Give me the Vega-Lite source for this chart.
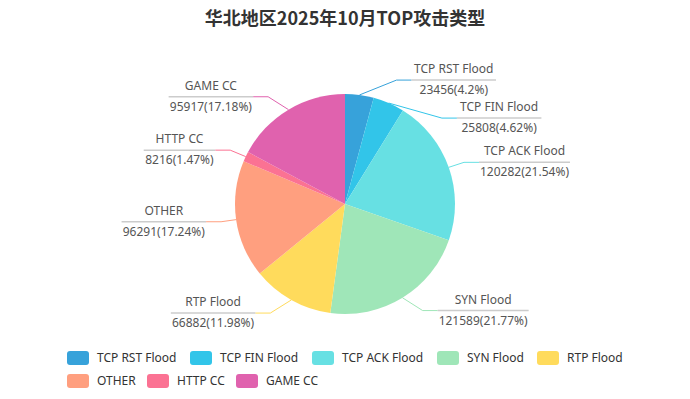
{
  "$schema": "https://vega.github.io/schema/vega-lite/v6.json",
  "width": 690,
  "height": 272,
  "autosize": {"type": "none"},
  "padding": {"top": 68, "bottom": 59, "left": 0, "right": 0},
  "background": "white",
  "title": {"text": "华北地区2025年10月TOP攻击类型"},
  "data": {
    "values": [
      {"type": "TCP RST Flood", "count": 23456},
      {"type": "TCP FIN Flood", "count": 25808},
      {"type": "TCP ACK Flood", "count": 120282},
      {"type": "SYN Flood", "count": 121589},
      {"type": "RTP Flood", "count": 66882},
      {"type": "OTHER", "count": 96291},
      {"type": "HTTP CC", "count": 8216},
      {"type": "GAME CC", "count": 95917}
    ]
  },
  "transform": [
    {"window": [{"op": "row_number", "as": "idx"}]},
    {"joinaggregate": [{"op": "sum", "field": "count", "as": "total"}]},
    {"window": [{"op": "sum", "field": "count", "as": "cum"}], "sort": [{"field": "idx"}], "frame": [null, 0]},
    {"calculate": "(datum.cum - datum.count / 2) / datum.total * 2 * PI", "as": "mid"},
    {"calculate": "round(datum.count / datum.total * 10000) / 100", "as": "pct"},
    {"calculate": "datum.count + '(' + datum.pct + '%)'", "as": "valtxt"},
    {"calculate": "sin(datum.mid) >= 0 ? 1 : -1", "as": "side"},
    {"calculate": "110 * sin(datum.mid)", "as": "ex"},
    {"calculate": "110 * cos(datum.mid)", "as": "ey"},
    {"calculate": "125 * cos(datum.mid)", "as": "ny"},
    {"window": [{"op": "lag", "field": "ny", "as": "prevny"}], "groupby": ["side"], "sort": [{"field": "idx"}]},
    {"calculate": "datum.prevny == null ? datum.ny : (datum.side > 0 ? min(datum.ny, datum.prevny - 38) : max(datum.ny, datum.prevny + 38))", "as": "ly"},
    {"calculate": "datum.side * 125 * sqrt(max(0, 1 - datum.ly * datum.ly / 18496))", "as": "bx"},
    {"calculate": "datum.bx + datum.side * 15", "as": "ax"},
    {"calculate": "max(length(datum.type), length(datum.valtxt)) * 6.5", "as": "w"},
    {"calculate": "datum.ax + datum.side * datum.w / 2", "as": "tx"},
    {"calculate": "datum.ax + datum.side * datum.w", "as": "hx"}
  ],
  "layer": [
    {
      "mark": {"type": "arc", "radius": 110},
      "encoding": {
        "theta": {"field": "count", "type": "quantitative", "stack": true},
        "order": {"field": "idx", "type": "quantitative"},
        "fill": {
          "field": "type",
          "type": "nominal",
          "scale": {
            "domain": ["TCP RST Flood", "TCP FIN Flood", "TCP ACK Flood", "SYN Flood", "RTP Flood", "OTHER", "HTTP CC", "GAME CC"],
            "range": ["#37a2da", "#32c5e9", "#67e0e3", "#9fe6b8", "#ffdb5c", "#ff9f7f", "#fb7293", "#e062ae"]
          },
          "legend": {"title": null, "orient": "none", "legendX": 67, "legendY": 279, "direction": "horizontal", "columnPadding": 13,
            "values": ["TCP RST Flood", "TCP FIN Flood", "TCP ACK Flood", "SYN Flood", "RTP Flood"]}
        }
      }
    },
    {
      "mark": {"type": "rule", "strokeWidth": 1},
      "encoding": {
        "x": {"field": "ex", "type": "quantitative", "scale": {"domain": [-345, 345], "nice": false, "zero": false}, "axis": null},
        "y": {"field": "ey", "type": "quantitative", "scale": {"domain": [-136, 136], "nice": false, "zero": false}, "axis": null},
        "x2": {"field": "bx"},
        "y2": {"field": "ly"},
        "stroke": {
          "field": "type",
          "type": "nominal",
          "scale": {
            "domain": ["OTHER", "HTTP CC", "GAME CC", "TCP RST Flood", "TCP FIN Flood", "TCP ACK Flood", "SYN Flood", "RTP Flood"],
            "range": ["#ff9f7f", "#fb7293", "#e062ae", "#37a2da", "#32c5e9", "#67e0e3", "#9fe6b8", "#ffdb5c"]
          },
          "legend": {"title": null, "orient": "none", "legendX": 67, "legendY": 302, "direction": "horizontal", "columnPadding": 11,
            "values": ["OTHER", "HTTP CC", "GAME CC"],
            "encode": {"symbols": {"update": {"fill": {"scale": "stroke", "field": "value"}, "strokeWidth": {"value": 0}}}}}
        }
      }
    },
    {
      "mark": {"type": "rule", "strokeWidth": 1},
      "encoding": {
        "x": {"field": "bx", "type": "quantitative", "scale": {"domain": [-345, 345], "nice": false, "zero": false}, "axis": null},
        "y": {"field": "ly", "type": "quantitative", "scale": {"domain": [-136, 136], "nice": false, "zero": false}, "axis": null},
        "x2": {"field": "ax"},
        "stroke": {"field": "type", "type": "nominal"}
      }
    },
    {
      "mark": {"type": "rule", "strokeWidth": 1.5, "color": "#cccccc"},
      "encoding": {
        "x": {"field": "ax", "type": "quantitative", "scale": {"domain": [-345, 345], "nice": false, "zero": false}, "axis": null},
        "y": {"field": "ly", "type": "quantitative", "scale": {"domain": [-136, 136], "nice": false, "zero": false}, "axis": null},
        "x2": {"field": "hx"}
      }
    },
    {
      "mark": {"type": "text", "dy": -11, "align": "center", "baseline": "middle", "font": "Noto Sans", "fontSize": 12, "color": "#555555"},
      "encoding": {
        "x": {"field": "tx", "type": "quantitative", "scale": {"domain": [-345, 345], "nice": false, "zero": false}, "axis": null},
        "y": {"field": "ly", "type": "quantitative", "scale": {"domain": [-136, 136], "nice": false, "zero": false}, "axis": null},
        "text": {"field": "type"}
      }
    },
    {
      "mark": {"type": "text", "dy": 10, "align": "center", "baseline": "middle", "font": "Noto Sans", "fontSize": 12, "color": "#555555"},
      "encoding": {
        "x": {"field": "tx", "type": "quantitative", "scale": {"domain": [-345, 345], "nice": false, "zero": false}, "axis": null},
        "y": {"field": "ly", "type": "quantitative", "scale": {"domain": [-136, 136], "nice": false, "zero": false}, "axis": null},
        "text": {"field": "valtxt"}
      }
    }
  ],
  "config": {
    "view": {"stroke": null},
    "title": {"font": "Noto Sans CJK SC", "fontSize": 18, "fontWeight": "bold", "color": "#333333", "anchor": "middle", "offset": 34},
    "legend": {
      "padding": 0,
      "labelFont": "Noto Sans",
      "labelFontSize": 12,
      "labelColor": "#333333",
      "labelOffset": 8,
      "symbolType": "M-0.73,-0.636L0.73,-0.636Q1,-0.636 1,-0.364L1,0.364Q1,0.636 0.73,0.636L-0.73,0.636Q-1,0.636 -1,0.364L-1,-0.364Q-1,-0.636 -0.73,-0.636Z",
      "symbolSize": 484,
      "symbolStrokeWidth": 0,
      "symbolOpacity": 1
    }
  }
}
